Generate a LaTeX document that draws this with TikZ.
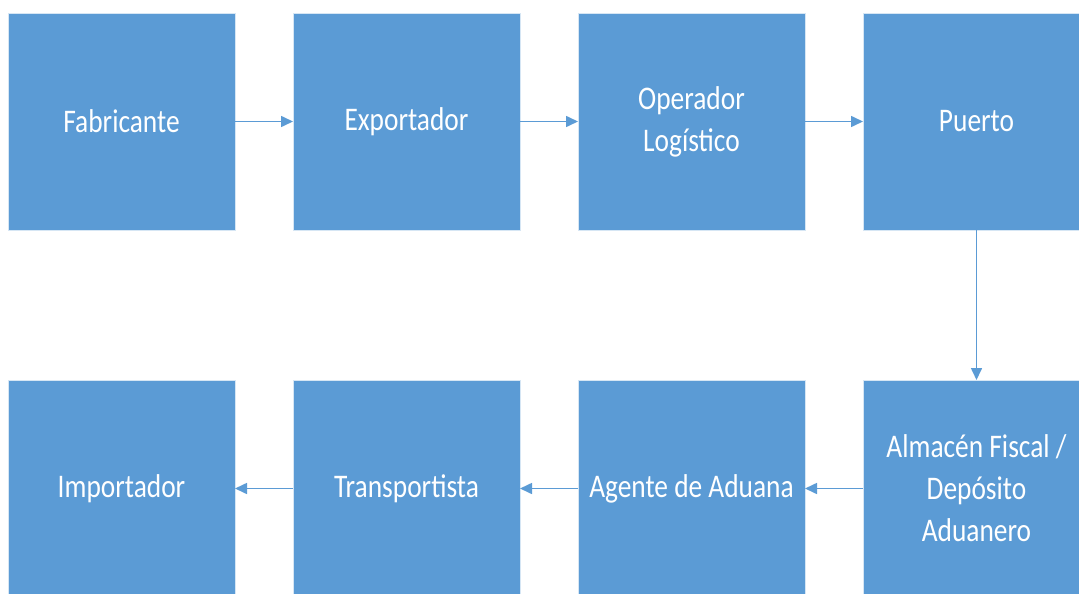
\documentclass[tikz,border=0pt]{standalone}
\usepackage{fontspec}
\newfontfamily\cajafont{Carlito}[FakeStretch=0.83]
\usetikzlibrary{positioning,arrows.meta}
\definecolor{azulcaja}{HTML}{5B9BD5}
\definecolor{azulflecha}{HTML}{5B9BD5}
\tikzset{
	caja/.style={rectangle, fill=azulcaja, draw=white!75!azulcaja, line width=0.8pt,
		text=white, font=\cajafont\fontsize{33}{42}\selectfont, minimum width=227pt,
		minimum height=217pt, text width=215pt, align=flush center, outer sep=0pt, inner sep=0pt},
	flecha/.style={draw=azulflecha, line width=1.6pt, -{Triangle[length=12pt,width=11pt]}}
}

\begin{document}
\begin{tikzpicture}[x=1pt, y=-1pt, node distance=58pt]
			\useasboundingbox (0,0) rectangle (1079,594);
			\clip (0,0) rectangle (1079,594);
			
			\node[caja] (fab) at (121.5,121.5) {Fabricante};
			\node[caja, right=of fab] (exp) {Exportador};
			\node[caja, right=of exp] (oper) {Operador\\Logístico};
			\node[caja, right=of oper] (puerto) {Puerto};
			
			\node[caja, below=150pt of puerto] (almacen) {Almacén Fiscal /\\Depósito\\Aduanero};
			\node[caja, left=of almacen] (agente) {Agente de Aduana};
			\node[caja, left=of agente] (transp) {Transportista};
			\node[caja, left=of transp] (imp) {Importador};
			
			\draw[flecha] (fab) -- (exp);
			\draw[flecha] (exp) -- (oper);
			\draw[flecha] (oper) -- (puerto);
			\draw[flecha] (puerto) -- (almacen);
			\draw[flecha] (almacen) -- (agente);
			\draw[flecha] (agente) -- (transp);
			\draw[flecha] (transp) -- (imp);
		\end{tikzpicture}
\end{document}
